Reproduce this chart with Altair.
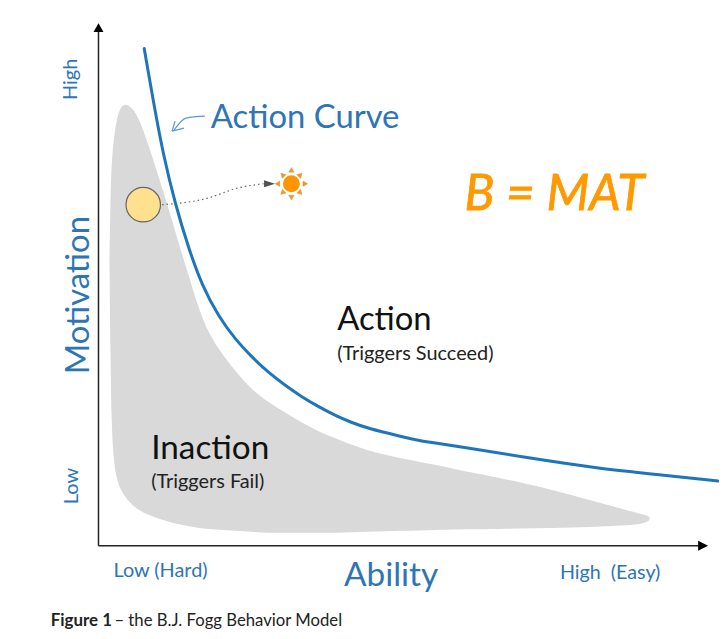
import altair as alt
import pandas as pd

# Axis units: ability and motivation measured from the chart origin
curve_ability = [46, 56, 65, 77, 91, 104, 121, 138, 154, 171, 188, 204, 221, 238, 254, 271, 304, 321, 341, 368, 434, 501, 568, 623]
curve_motivation = [499, 441, 393, 343, 297, 261, 229, 206, 189, 173, 160, 149, 139, 130, 123, 117, 109, 105, 102, 98, 87, 77, 70, 64]

zone_ability = [11, 12, 13, 15, 18, 21, 27, 38, 48, 61, 74, 84, 91, 98, 108, 121, 138, 154, 171, 188, 204, 221, 238, 271, 304, 341, 368, 434, 468, 501, 534, 546, 552, 554, 554.5]
zone_upper = [286, 346, 381, 406, 426, 438, 445, 436, 409, 369, 326, 292, 270, 246, 218, 196, 174, 156, 143, 133, 123, 114, 107, 94, 87, 80, 74, 61, 52, 43, 34, 31, 29, 28, 27]
zone_lower = [286, 196, 126, 86, 68, 58, 47, 36, 31, 26, 22, 20, 18.5, 17.5, 16, 15, 14, 13, 12, 12, 12, 12, 12, 13, 14, 15, 15.5, 16.5, 17, 18, 19.5, 21, 23, 25, 27]

nudge_ability = [64, 108, 141, 166]
nudge_motivation = [342, 348, 359, 363]

hook_ability = [107, 88, 76]
hook_motivation = [431, 429, 417]
hook_a_ability = [74, 77]
hook_a_motivation = [416, 426]
hook_b_ability = [74, 86]
hook_b_motivation = [416, 419]

ray_ability = [194, 203, 208, 203, 194, 185, 180, 185]
ray_motivation = [377, 372, 363, 354, 349, 354, 363, 372]
ray_angle = [0, 45, 90, 135, 180, 225, 270, 315]

BLUE = "#2E75B6"
labels = [
    ("Action Curve", 113, 429, 33, BLUE, "left", 0, "normal"),
    ("Action", 240, 226, 33, "#111111", "left", 0, "normal"),
    ("(Triggers Succeed)", 240, 192, 20, "#222222", "left", 0, "normal"),
    ("Inaction", 53, 96, 33.5, "#111111", "left", 0, "normal"),
    ("(Triggers Fail)", 53, 63, 20, "#222222", "left", 0, "normal"),
    ("Low (Hard)", 15, -26, 20, BLUE, "left", 0, "normal"),
    ("Ability", 247, -31, 33.5, BLUE, "left", 0, "normal"),
    ("High\u00a0\u00a0(Easy)", 464, -28, 19.8, BLUE, "left", 0, "normal"),
    ("Motivation", -20, 251, 33, BLUE, "center", 270, "normal"),
    ("Low", -27, 59, 20, BLUE, "center", 270, "normal"),
    ("High", -28, 468, 20, BLUE, "center", 270, "normal"),
    ("Figure 1", -48, -76.5, 17, "#222222", "left", 0, "bold"),
    ("– the B.J. Fogg Behavior Model", 16, -76.5, 16.8, "#222222", "left", 0, "normal"),
]

x_scale = alt.Scale(domain=[-91, 624], nice=False, zero=False)
y_scale = alt.Scale(domain=[-87, 538], nice=False, zero=False)
X = alt.X("a:Q", scale=x_scale, axis=None)
Y = alt.Y("m:Q", scale=y_scale, axis=None)


def line(xs, ys, **kw):
    data = pd.DataFrame({"a": xs, "m": ys, "i": range(len(xs))})
    return alt.Chart(data).mark_line(**kw).encode(x=X, y=Y, order="i:Q")


def point(a, m, **kw):
    data = pd.DataFrame({"a": [a], "m": [m]})
    return alt.Chart(data).mark_point(filled=True, **kw).encode(x=X, y=Y)


def text(row, **extra):
    label, a, m, size, color, align, angle, weight = row
    data = pd.DataFrame({"a": [a], "m": [m], "t": [label]})
    return alt.Chart(data).mark_text(
        font="Lato", fontSize=size, color=color, align=align,
        baseline="middle", angle=angle, fontWeight=weight, **extra,
    ).encode(x=X, y=Y, text="t:N")


zone = alt.Chart(pd.DataFrame({"a": zone_ability, "u": zone_upper, "l": zone_lower})).mark_area(
    color="#D9D9D9", interpolate="basis"
).encode(x=X, y=alt.Y("u:Q", scale=y_scale, axis=None), y2="l:Q")

rays = alt.Chart(pd.DataFrame({"a": ray_ability, "m": ray_motivation, "r": ray_angle})).mark_point(
    filled=True, shape="triangle-up", size=30, color="#FF9900", stroke="#999999", strokeWidth=0.4, opacity=1
).encode(x=X, y=Y, angle=alt.Angle("r:Q", scale=None))

layers = [
    zone,
    line(nudge_ability, nudge_motivation, color="#666666", strokeWidth=1.2, strokeDash=[1.5, 3], interpolate="monotone"),
    line(curve_ability, curve_motivation, color="#1F75BB", strokeWidth=3, interpolate="basis", strokeCap="round"),
    line([0, 0], [-1, 516], color="#222222", strokeWidth=1.5),
    line([0, 604], [-1, -1], color="#222222", strokeWidth=1.5),
    point(0, 520, shape="triangle-up", size=100, color="#000000", opacity=1),
    point(608, -1, shape="M-1,-1L1,0L-1,1Z", size=100, color="#000000", opacity=1),
    point(45, 342, shape="circle", size=1200, color="#FFE08F", stroke="#666666", strokeWidth=1.2, opacity=1),
    rays,
    point(194, 363, shape="circle", size=290, color="#FF9500", opacity=1),
    point(172, 363, shape="M-1,-0.64L1,0L-1,0.64Z", size=121, color="#505050", opacity=1),
    line(hook_ability, hook_motivation, color="#5B9BD5", strokeWidth=1.3, interpolate="monotone"),
    line(hook_a_ability, hook_a_motivation, color="#5B9BD5", strokeWidth=1.3),
    line(hook_b_ability, hook_b_motivation, color="#5B9BD5", strokeWidth=1.3),
    text(("B = MAT", 368, 352, 50, "#FF9900", "left", 0, "normal"), fontStyle="italic",
         stroke="#FF9900", strokeWidth=0.8),
] + [text(r) for r in labels]

chart = alt.layer(*layers).properties(
    width=715, height=625, padding=0, autosize=alt.AutoSizeParams(type="none")
).configure_view(stroke=None)

chart.save("out.html", embed_options={"renderer": "svg", "actions": False})
